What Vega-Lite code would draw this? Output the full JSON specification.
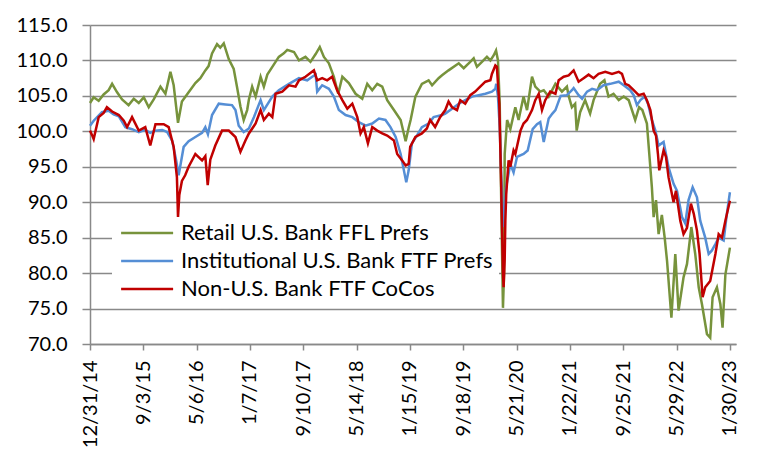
{
  "$schema": "https://vega.github.io/schema/vega-lite/v6.json",
  "width": 646,
  "height": 319,
  "autosize": {"type": "none"},
  "padding": {"left": 90, "top": 25, "right": 31, "bottom": 110},
  "background": "white",
  "config": {
    "view": {"stroke": null},
    "font": "Lato",
    "axis": {"labelFont": "Lato", "labelFontSize": 20, "labelColor": "black", "domainColor": "#898989", "domainWidth": 1.5, "tickColor": "#898989", "tickWidth": 1.5, "gridColor": "#898989", "gridWidth": 1.5, "title": null}
  },
  "encoding": {
    "x": {"field": "d", "type": "temporal",
      "scale": {"type": "utc", "domain": [{"year": 2014, "month": 12, "date": 31, "utc": true}, {"year": 2023, "month": 2, "date": 27, "utc": true}]},
      "axis": {"grid": false, "labelAngle": 270, "tickSize": 6, "labelPadding": 10, "labelExpr": "utcFormat(datum.value, '%-m/%-d/%y')", "labelOverlap": false, "labelFlush": false,
        "values": [
          {"year": 2014, "month": 12, "date": 31, "utc": true},
          {"year": 2015, "month": 9, "date": 3, "utc": true},
          {"year": 2016, "month": 5, "date": 6, "utc": true},
          {"year": 2017, "month": 1, "date": 7, "utc": true},
          {"year": 2017, "month": 9, "date": 10, "utc": true},
          {"year": 2018, "month": 5, "date": 14, "utc": true},
          {"year": 2019, "month": 1, "date": 15, "utc": true},
          {"year": 2019, "month": 9, "date": 18, "utc": true},
          {"year": 2020, "month": 5, "date": 21, "utc": true},
          {"year": 2021, "month": 1, "date": 22, "utc": true},
          {"year": 2021, "month": 9, "date": 25, "utc": true},
          {"year": 2022, "month": 5, "date": 29, "utc": true},
          {"year": 2023, "month": 1, "date": 30, "utc": true}
        ]}},
    "y": {"field": "v", "type": "quantitative",
      "scale": {"domain": [70, 115], "nice": false, "zero": false},
      "axis": {"values": [70, 75, 80, 85, 90, 95, 100, 105, 110, 115], "format": ".1f", "tickSize": 8, "labelPadding": 15, "grid": true}}
  },
  "layer": [
    {
      "data": {"values": [
        {"d":"2014-12-31","v":104.0},{"d":"2015-01-17","v":104.8},{"d":"2015-02-09","v":104.3},{"d":"2015-03-04","v":105.2},{"d":"2015-03-27","v":105.8},{"d":"2015-04-12","v":106.7},{"d":"2015-05-05","v":105.5},{"d":"2015-05-28","v":104.5},{"d":"2015-06-27","v":103.7},{"d":"2015-07-21","v":104.6},{"d":"2015-08-13","v":104.0},{"d":"2015-09-05","v":104.8},{"d":"2015-09-28","v":103.4},{"d":"2015-10-21","v":104.5},{"d":"2015-11-21","v":106.3},{"d":"2015-12-14","v":105.3},{"d":"2016-01-06","v":108.4},{"d":"2016-01-21","v":106.5},{"d":"2016-02-10","v":101.2},{"d":"2016-02-28","v":104.2},{"d":"2016-03-30","v":105.5},{"d":"2016-04-30","v":106.8},{"d":"2016-05-23","v":107.5},{"d":"2016-06-15","v":108.6},{"d":"2016-06-30","v":109.2},{"d":"2016-07-16","v":111.0},{"d":"2016-08-08","v":112.3},{"d":"2016-08-23","v":111.8},{"d":"2016-09-08","v":112.4},{"d":"2016-10-01","v":110.2},{"d":"2016-10-24","v":108.8},{"d":"2016-11-08","v":106.3},{"d":"2016-11-24","v":103.5},{"d":"2016-12-09","v":101.6},{"d":"2016-12-25","v":103.0},
        {"d":"2017-01-02","v":104.5},{"d":"2017-01-17","v":106.3},{"d":"2017-02-02","v":104.9},{"d":"2017-02-25","v":107.7},{"d":"2017-03-12","v":106.3},{"d":"2017-03-28","v":108.0},{"d":"2017-04-20","v":109.1},{"d":"2017-05-20","v":110.5},{"d":"2017-06-12","v":111.0},{"d":"2017-06-28","v":111.5},{"d":"2017-07-29","v":111.2},{"d":"2017-08-21","v":110.0},{"d":"2017-09-20","v":110.5},{"d":"2017-10-13","v":109.8},{"d":"2017-11-06","v":110.9},{"d":"2017-11-25","v":111.9},{"d":"2017-12-14","v":110.5},{"d":"2018-01-06","v":109.6},{"d":"2018-01-29","v":107.7},{"d":"2018-02-18","v":105.3},{"d":"2018-03-09","v":107.7},{"d":"2018-04-08","v":106.8},{"d":"2018-05-09","v":105.3},{"d":"2018-06-09","v":104.6},{"d":"2018-07-02","v":106.7},{"d":"2018-07-25","v":105.8},{"d":"2018-08-17","v":106.7},{"d":"2018-09-09","v":106.3},{"d":"2018-10-02","v":104.4},{"d":"2018-11-02","v":103.0},{"d":"2018-12-03","v":101.6},{"d":"2018-12-26","v":98.6},
        {"d":"2019-01-09","v":100.5},{"d":"2019-01-18","v":101.6},{"d":"2019-02-09","v":104.9},{"d":"2019-03-11","v":106.7},{"d":"2019-04-11","v":107.2},{"d":"2019-04-27","v":106.5},{"d":"2019-05-27","v":107.5},{"d":"2019-06-12","v":107.9},{"d":"2019-07-12","v":108.6},{"d":"2019-08-28","v":109.6},{"d":"2019-09-20","v":108.9},{"d":"2019-10-20","v":109.8},{"d":"2019-11-05","v":110.3},{"d":"2019-11-20","v":109.1},{"d":"2019-12-13","v":109.8},{"d":"2020-01-05","v":110.5},{"d":"2020-01-21","v":110.0},{"d":"2020-02-05","v":110.7},{"d":"2020-02-16","v":111.4},{"d":"2020-02-25","v":110.0},{"d":"2020-03-04","v":104.0},{"d":"2020-03-11","v":90.0},{"d":"2020-03-19","v":75.1},{"d":"2020-03-24","v":80.0},{"d":"2020-03-27","v":96.8},{"d":"2020-04-07","v":101.6},{"d":"2020-04-22","v":100.3},{"d":"2020-05-15","v":103.4},{"d":"2020-05-30","v":101.6},{"d":"2020-06-22","v":104.9},{"d":"2020-07-08","v":103.0},{"d":"2020-07-31","v":107.7},{"d":"2020-08-15","v":106.3},{"d":"2020-09-07","v":105.6},{"d":"2020-09-23","v":105.8},{"d":"2020-10-16","v":104.9},{"d":"2020-11-16","v":106.7},{"d":"2020-12-16","v":105.6},
        {"d":"2021-01-08","v":106.3},{"d":"2021-01-16","v":105.0},{"d":"2021-01-31","v":103.4},{"d":"2021-02-15","v":103.9},{"d":"2021-02-22","v":100.1},{"d":"2021-03-10","v":102.7},{"d":"2021-04-02","v":104.4},{"d":"2021-04-25","v":102.5},{"d":"2021-05-11","v":104.4},{"d":"2021-06-10","v":106.7},{"d":"2021-06-30","v":107.2},{"d":"2021-07-19","v":104.9},{"d":"2021-08-11","v":105.3},{"d":"2021-09-04","v":104.4},{"d":"2021-09-27","v":104.9},{"d":"2021-10-20","v":104.4},{"d":"2021-11-19","v":101.6},{"d":"2021-12-07","v":103.4},{"d":"2021-12-22","v":103.0},{"d":"2022-01-12","v":101.1},{"d":"2022-01-23","v":96.8},{"d":"2022-02-04","v":92.1},{"d":"2022-02-12","v":87.9},{"d":"2022-02-23","v":90.3},{"d":"2022-03-07","v":85.5},{"d":"2022-03-22","v":88.2},{"d":"2022-04-04","v":85.0},{"d":"2022-04-15","v":81.7},{"d":"2022-05-05","v":73.7},{"d":"2022-05-23","v":82.7},{"d":"2022-06-07","v":74.7},{"d":"2022-06-30","v":79.4},{"d":"2022-07-16","v":81.3},{"d":"2022-08-05","v":86.5},{"d":"2022-08-23","v":82.7},{"d":"2022-09-08","v":78.0},{"d":"2022-09-23","v":75.6},{"d":"2022-10-16","v":71.4},{"d":"2022-10-31","v":70.9},{"d":"2022-11-11","v":76.6},{"d":"2022-12-01","v":78.0},{"d":"2022-12-17","v":75.6},{"d":"2022-12-27","v":72.3},{"d":"2023-01-09","v":79.8},{"d":"2023-01-30","v":83.6}
      ]},
      "mark": {"type": "line", "strokeWidth": 2.5},
      "encoding": {"color": {"datum": "Retail U.S. Bank FFL Prefs", "type": "nominal",
        "scale": {"domain": ["Retail U.S. Bank FFL Prefs", "Institutional U.S. Bank FTF Prefs", "Non-U.S. Bank FTF CoCos"], "range": ["#77933C", "#558ED5", "#C00000"]},
        "legend": {"title": null, "orient": "none", "legendX": 22, "legendY": 192, "fillColor": "white", "padding": 5, "symbolType": "M-1.06,0H6.94", "symbolSize": 169, "symbolStrokeWidth": 2.5, "labelFont": "Lato", "labelFontSize": 22, "labelColor": "black", "labelOffset": 42, "rowPadding": 6, "labelLimit": 400}}}
    },
    {
      "data": {"values": [
        {"d":"2014-12-31","v":100.8},{"d":"2015-01-17","v":101.5},{"d":"2015-02-24","v":102.7},{"d":"2015-03-27","v":102.9},{"d":"2015-04-19","v":102.4},{"d":"2015-05-13","v":102.1},{"d":"2015-06-12","v":100.6},{"d":"2015-07-13","v":100.3},{"d":"2015-08-13","v":99.9},{"d":"2015-09-12","v":100.2},{"d":"2015-10-05","v":99.8},{"d":"2015-10-29","v":100.1},{"d":"2015-11-29","v":100.2},{"d":"2015-12-22","v":99.9},{"d":"2016-01-14","v":98.7},{"d":"2016-02-01","v":96.0},{"d":"2016-02-13","v":93.8},{"d":"2016-03-07","v":97.8},{"d":"2016-03-30","v":98.6},{"d":"2016-04-30","v":99.2},{"d":"2016-05-31","v":99.8},{"d":"2016-06-15","v":100.6},{"d":"2016-06-27","v":99.6},{"d":"2016-07-16","v":102.3},{"d":"2016-08-16","v":103.9},{"d":"2016-09-16","v":103.8},{"d":"2016-10-16","v":103.7},{"d":"2016-11-01","v":103.0},{"d":"2016-11-16","v":100.8},{"d":"2016-12-09","v":99.9},
        {"d":"2017-01-02","v":100.4},{"d":"2017-01-25","v":102.0},{"d":"2017-02-25","v":104.4},{"d":"2017-03-12","v":103.0},{"d":"2017-04-20","v":104.9},{"d":"2017-05-20","v":105.8},{"d":"2017-07-06","v":106.7},{"d":"2017-08-21","v":107.5},{"d":"2017-09-28","v":107.2},{"d":"2017-10-21","v":107.7},{"d":"2017-11-06","v":108.0},{"d":"2017-11-13","v":105.6},{"d":"2017-12-06","v":106.5},{"d":"2018-01-06","v":106.0},{"d":"2018-01-29","v":104.9},{"d":"2018-02-21","v":103.0},{"d":"2018-03-24","v":102.3},{"d":"2018-04-24","v":102.0},{"d":"2018-05-24","v":101.3},{"d":"2018-06-24","v":100.8},{"d":"2018-07-25","v":101.1},{"d":"2018-08-25","v":101.8},{"d":"2018-09-24","v":101.6},{"d":"2018-10-17","v":100.6},{"d":"2018-11-10","v":99.2},{"d":"2018-12-03","v":96.8},{"d":"2018-12-29","v":92.8},
        {"d":"2019-01-09","v":94.5},{"d":"2019-01-24","v":98.3},{"d":"2019-02-16","v":99.4},{"d":"2019-03-11","v":100.6},{"d":"2019-04-11","v":101.1},{"d":"2019-05-04","v":102.0},{"d":"2019-06-12","v":102.3},{"d":"2019-06-27","v":102.5},{"d":"2019-07-28","v":103.2},{"d":"2019-08-28","v":103.9},{"d":"2019-09-27","v":104.4},{"d":"2019-10-28","v":104.9},{"d":"2019-11-28","v":105.1},{"d":"2019-12-29","v":105.3},{"d":"2020-01-28","v":105.6},{"d":"2020-02-13","v":106.0},{"d":"2020-02-17","v":106.7},{"d":"2020-02-25","v":104.9},{"d":"2020-03-04","v":100.6},{"d":"2020-03-11","v":94.0},{"d":"2020-03-19","v":88.0},{"d":"2020-03-24","v":86.5},{"d":"2020-04-02","v":92.0},{"d":"2020-04-22","v":95.4},{"d":"2020-05-07","v":94.2},{"d":"2020-05-23","v":96.4},{"d":"2020-06-22","v":96.8},{"d":"2020-07-11","v":97.3},{"d":"2020-08-03","v":100.3},{"d":"2020-08-23","v":101.0},{"d":"2020-09-07","v":101.3},{"d":"2020-09-23","v":98.5},{"d":"2020-10-16","v":101.8},{"d":"2020-11-02","v":102.5},{"d":"2020-11-16","v":103.0},{"d":"2020-12-10","v":105.0},
        {"d":"2021-01-08","v":105.1},{"d":"2021-01-31","v":105.8},{"d":"2021-02-08","v":106.1},{"d":"2021-03-03","v":105.1},{"d":"2021-03-19","v":104.6},{"d":"2021-04-11","v":105.6},{"d":"2021-05-04","v":106.0},{"d":"2021-05-27","v":105.8},{"d":"2021-06-26","v":106.5},{"d":"2021-07-27","v":106.7},{"d":"2021-09-04","v":107.0},{"d":"2021-09-27","v":106.5},{"d":"2021-10-27","v":105.8},{"d":"2021-11-12","v":105.1},{"d":"2021-11-27","v":103.7},{"d":"2021-12-13","v":104.4},{"d":"2022-01-02","v":104.9},{"d":"2022-01-17","v":103.9},{"d":"2022-02-04","v":101.6},{"d":"2022-02-20","v":100.1},{"d":"2022-03-07","v":98.0},{"d":"2022-03-30","v":98.5},{"d":"2022-04-22","v":94.9},{"d":"2022-05-15","v":92.6},{"d":"2022-05-31","v":91.6},{"d":"2022-06-23","v":87.9},{"d":"2022-07-08","v":87.0},{"d":"2022-07-23","v":90.3},{"d":"2022-08-11","v":92.1},{"d":"2022-08-31","v":90.7},{"d":"2022-09-15","v":87.4},{"d":"2022-10-08","v":85.0},{"d":"2022-10-24","v":82.7},{"d":"2022-11-08","v":83.2},{"d":"2022-11-24","v":84.1},{"d":"2022-12-09","v":85.0},{"d":"2023-01-01","v":84.6},{"d":"2023-01-16","v":88.4},{"d":"2023-01-30","v":91.4}
      ]},
      "mark": {"type": "line", "strokeWidth": 2.5},
      "encoding": {"color": {"datum": "Institutional U.S. Bank FTF Prefs", "type": "nominal"}}
    },
    {
      "data": {"values": [
        {"d":"2014-12-31","v":100.1},{"d":"2015-01-09","v":99.5},{"d":"2015-01-17","v":98.9},{"d":"2015-02-09","v":102.0},{"d":"2015-03-04","v":102.6},{"d":"2015-03-19","v":103.4},{"d":"2015-04-12","v":102.8},{"d":"2015-05-13","v":102.3},{"d":"2015-06-05","v":101.5},{"d":"2015-06-20","v":100.6},{"d":"2015-07-13","v":102.0},{"d":"2015-08-13","v":100.1},{"d":"2015-09-12","v":100.6},{"d":"2015-10-05","v":98.0},{"d":"2015-10-29","v":101.0},{"d":"2015-12-06","v":101.0},{"d":"2015-12-29","v":100.6},{"d":"2016-01-21","v":97.8},{"d":"2016-02-05","v":93.5},{"d":"2016-02-10","v":87.9},{"d":"2016-02-16","v":91.0},{"d":"2016-02-28","v":93.0},{"d":"2016-03-14","v":93.8},{"d":"2016-03-30","v":95.0},{"d":"2016-04-30","v":96.8},{"d":"2016-05-31","v":95.9},{"d":"2016-06-15","v":96.5},{"d":"2016-06-26","v":92.4},{"d":"2016-07-08","v":96.0},{"d":"2016-07-31","v":98.0},{"d":"2016-08-31","v":100.1},{"d":"2016-10-01","v":100.1},{"d":"2016-11-01","v":99.2},{"d":"2016-11-24","v":97.1},{"d":"2016-12-17","v":98.7},
        {"d":"2017-01-02","v":99.7},{"d":"2017-02-02","v":101.1},{"d":"2017-02-25","v":103.0},{"d":"2017-03-12","v":101.6},{"d":"2017-04-04","v":102.5},{"d":"2017-04-20","v":102.0},{"d":"2017-05-05","v":105.3},{"d":"2017-06-05","v":105.6},{"d":"2017-07-06","v":106.5},{"d":"2017-08-05","v":106.3},{"d":"2017-08-21","v":107.2},{"d":"2017-09-20","v":107.7},{"d":"2017-10-29","v":108.6},{"d":"2017-11-13","v":107.2},{"d":"2017-12-06","v":107.5},{"d":"2017-12-29","v":107.2},{"d":"2018-01-21","v":107.7},{"d":"2018-02-13","v":105.8},{"d":"2018-03-09","v":104.4},{"d":"2018-04-01","v":103.2},{"d":"2018-04-24","v":103.9},{"d":"2018-05-17","v":102.0},{"d":"2018-06-01","v":99.7},{"d":"2018-06-16","v":100.6},{"d":"2018-07-05","v":98.3},{"d":"2018-07-25","v":100.6},{"d":"2018-08-17","v":100.1},{"d":"2018-09-09","v":99.7},{"d":"2018-10-02","v":99.4},{"d":"2018-11-02","v":98.7},{"d":"2018-11-17","v":96.8},{"d":"2018-12-10","v":95.9},{"d":"2018-12-26","v":95.2},
        {"d":"2019-01-09","v":95.4},{"d":"2019-01-16","v":97.8},{"d":"2019-02-09","v":99.2},{"d":"2019-03-11","v":99.7},{"d":"2019-04-03","v":100.4},{"d":"2019-04-18","v":101.6},{"d":"2019-05-11","v":100.6},{"d":"2019-06-03","v":102.0},{"d":"2019-06-27","v":103.0},{"d":"2019-07-12","v":104.2},{"d":"2019-07-28","v":103.4},{"d":"2019-08-20","v":103.0},{"d":"2019-09-04","v":104.4},{"d":"2019-09-27","v":103.9},{"d":"2019-10-20","v":105.1},{"d":"2019-11-12","v":105.6},{"d":"2019-12-05","v":106.3},{"d":"2019-12-29","v":107.0},{"d":"2020-01-21","v":107.2},{"d":"2020-01-28","v":108.1},{"d":"2020-02-13","v":109.3},{"d":"2020-02-20","v":109.1},{"d":"2020-03-02","v":103.9},{"d":"2020-03-11","v":92.1},{"d":"2020-03-19","v":80.0},{"d":"2020-03-22","v":78.0},{"d":"2020-03-27","v":82.0},{"d":"2020-03-30","v":87.4},{"d":"2020-04-03","v":91.1},{"d":"2020-04-14","v":95.9},{"d":"2020-04-22","v":95.0},{"d":"2020-05-07","v":97.3},{"d":"2020-05-15","v":96.8},{"d":"2020-06-08","v":100.1},{"d":"2020-06-22","v":101.1},{"d":"2020-07-08","v":101.6},{"d":"2020-07-31","v":103.0},{"d":"2020-08-15","v":104.4},{"d":"2020-08-31","v":105.3},{"d":"2020-09-15","v":103.0},{"d":"2020-09-30","v":104.4},{"d":"2020-10-23","v":105.6},{"d":"2020-11-16","v":105.3},{"d":"2020-12-01","v":107.2},{"d":"2020-12-24","v":107.7},
        {"d":"2021-01-16","v":107.9},{"d":"2021-02-08","v":108.6},{"d":"2021-03-03","v":107.0},{"d":"2021-03-26","v":107.5},{"d":"2021-04-18","v":108.0},{"d":"2021-05-11","v":107.5},{"d":"2021-06-03","v":108.1},{"d":"2021-07-04","v":108.4},{"d":"2021-08-04","v":108.1},{"d":"2021-09-04","v":108.4},{"d":"2021-09-19","v":108.1},{"d":"2021-10-04","v":106.7},{"d":"2021-10-20","v":106.5},{"d":"2021-11-12","v":105.8},{"d":"2021-12-05","v":105.1},{"d":"2021-12-28","v":105.3},{"d":"2022-01-12","v":104.4},{"d":"2022-01-28","v":103.0},{"d":"2022-02-12","v":100.1},{"d":"2022-02-23","v":99.4},{"d":"2022-03-04","v":96.8},{"d":"2022-03-10","v":94.5},{"d":"2022-03-30","v":97.3},{"d":"2022-04-10","v":96.4},{"d":"2022-04-22","v":93.5},{"d":"2022-05-15","v":90.0},{"d":"2022-05-26","v":91.6},{"d":"2022-06-15","v":87.4},{"d":"2022-06-30","v":85.5},{"d":"2022-07-16","v":86.4},{"d":"2022-08-03","v":89.8},{"d":"2022-08-16","v":88.4},{"d":"2022-08-31","v":86.0},{"d":"2022-09-12","v":82.7},{"d":"2022-09-26","v":76.6},{"d":"2022-10-08","v":78.0},{"d":"2022-10-31","v":78.9},{"d":"2022-11-24","v":82.7},{"d":"2022-12-09","v":85.5},{"d":"2022-12-24","v":85.0},{"d":"2023-01-09","v":87.4},{"d":"2023-01-30","v":90.2}
      ]},
      "mark": {"type": "line", "strokeWidth": 2.5},
      "encoding": {"color": {"datum": "Non-U.S. Bank FTF CoCos", "type": "nominal"}}
    }
  ]
}
